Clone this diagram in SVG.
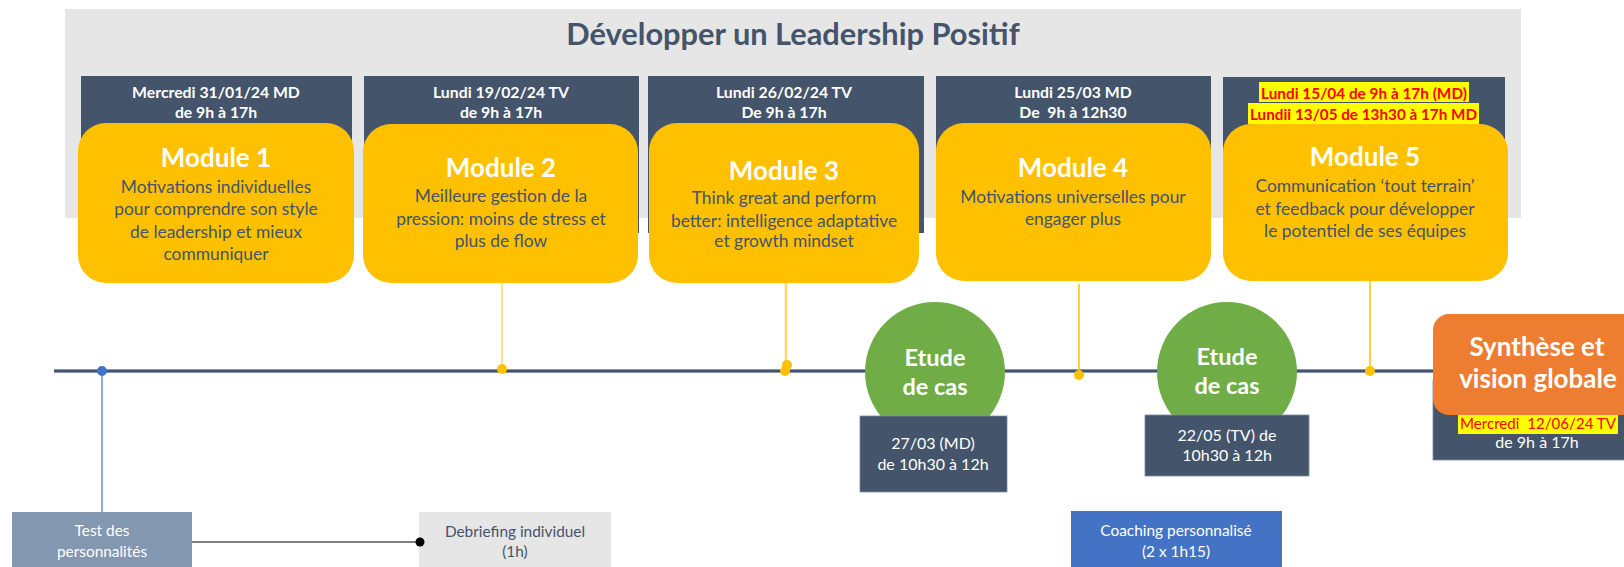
<svg xmlns="http://www.w3.org/2000/svg" width="1624" height="567" viewBox="0 0 1624 567">
<style>
text{font-family:Lato,"Liberation Sans",sans-serif;text-anchor:middle}
.title{font-size:30.8px;font-weight:700;fill:#44546A}
.hdr{fill:#44546A}
.hdrt{font-size:15.8px;font-weight:700;fill:#FFFFFF;white-space:pre}
.red{font-size:15.5px;font-weight:700;fill:#FF0000;white-space:pre}
.hl{fill:#FFFF00}
.mod{fill:#FFC000}
.modt{font-size:26px;font-weight:700;fill:#FFFFFF}
.body{font-size:17.4px;fill:#44546A}
.yl{stroke:#FFC000;stroke-width:1.5;fill:none}
.yd{fill:#FFC000}
.circ{fill:#70AD47}
.circt{font-size:23.5px;font-weight:700;fill:#FFFFFF}
.case{fill:#44546A;stroke:#7d8ca3;stroke-width:0.8}
.caset{font-size:16px;fill:#FFFFFF}
.smt{font-size:15.4px;fill:#FFFFFF}
</style>
<rect x="65" y="9" width="1456" height="209" fill="#E7E6E6"/>
<text class="title" x="793" y="45">Développer un Leadership Positif</text>

<g id="timeline">
  <line x1="54" y1="371" x2="1440" y2="371" stroke="#8497B0" stroke-width="4"/>
  <line x1="54" y1="371" x2="1440" y2="371" stroke="#44546A" stroke-width="2"/>
</g>

<g id="module1">
  <rect class="hdr" x="81" y="76" width="271" height="157"/>
  <text class="hdrt" x="216" y="98">Mercredi 31/01/24 MD</text>
  <text class="hdrt" x="216" y="118">de 9h à 17h</text>
  <rect class="mod" x="78" y="123" width="276" height="160" rx="28"/>
  <text class="modt" x="216" y="167">Module 1</text>
  <text class="body" x="216" y="193">Motivations individuelles</text>
  <text class="body" x="216" y="215">pour comprendre son style</text>
  <text class="body" x="216" y="238">de leadership et mieux</text>
  <text class="body" x="216" y="260">communiquer</text>
</g>

<g id="module2">
  <rect class="hdr" x="364" y="76" width="275" height="157"/>
  <text class="hdrt" x="501" y="98">Lundi 19/02/24 TV</text>
  <text class="hdrt" x="501" y="118">de 9h à 17h</text>
  <rect class="mod" x="363" y="124" width="275" height="159" rx="28"/>
  <text class="modt" x="501" y="177">Module 2</text>
  <text class="body" x="501" y="202">Meilleure gestion de la</text>
  <text class="body" x="501" y="225">pression: moins de stress et</text>
  <text class="body" x="501" y="247">plus de flow</text>
</g>

<g id="module3">
  <rect class="hdr" x="648" y="76" width="276" height="157"/>
  <text class="hdrt" x="784" y="98">Lundi 26/02/24 TV</text>
  <text class="hdrt" x="784" y="118">De 9h à 17h</text>
  <rect class="mod" x="649" y="123" width="270" height="160" rx="28"/>
  <text class="modt" x="784" y="180">Module 3</text>
  <text class="body" x="784" y="204">Think great and perform</text>
  <text class="body" x="784" y="227">better: intelligence adaptative</text>
  <text class="body" x="784" y="247">et growth mindset</text>
</g>

<g id="module4">
  <rect class="hdr" x="936" y="76" width="275" height="157"/>
  <text class="hdrt" x="1073" y="98">Lundi 25/03 MD</text>
  <text class="hdrt" x="1073" y="118">De  9h à 12h30</text>
  <rect class="mod" x="936" y="123" width="275" height="158" rx="28"/>
  <text class="modt" x="1073" y="177">Module 4</text>
  <text class="body" x="1073" y="203">Motivations universelles pour</text>
  <text class="body" x="1073" y="225">engager plus</text>
</g>

<g id="module5">
  <rect class="hdr" x="1223" y="77" width="282" height="156"/>
  <rect class="hl" x="1259" y="82" width="210" height="20"/>
  <rect class="hl" x="1248" y="103" width="231" height="21"/>
  <text class="red" x="1364" y="99" textLength="206" lengthAdjust="spacingAndGlyphs">Lundi 15/04 de 9h à 17h (MD)</text>
  <text class="red" x="1363.5" y="120" textLength="227" lengthAdjust="spacingAndGlyphs">Lundii 13/05 de 13h30 à 17h MD</text>
  <rect class="mod" x="1223" y="124" width="285" height="157" rx="28"/>
  <text class="modt" x="1365" y="166">Module 5</text>
  <text class="body" x="1365" y="192">Communication ‘tout terrain’</text>
  <text class="body" x="1365" y="215">et feedback pour développer</text>
  <text class="body" x="1365" y="237">le potentiel de ses équipes</text>
</g>

<g id="etude1">
  <circle class="circ" cx="935" cy="372" r="70"/>
  <text class="circt" x="935" y="366">Etude</text>
  <text class="circt" x="935" y="395">de cas</text>
  <rect class="case" x="860" y="416" width="147" height="76"/>
  <text class="caset" x="933" y="449">27/03 (MD)</text>
  <text class="caset" x="933" y="470">de 10h30 à 12h</text>
</g>

<g id="etude2">
  <circle class="circ" cx="1227" cy="372" r="70"/>
  <text class="circt" x="1227" y="365">Etude</text>
  <text class="circt" x="1227" y="394">de cas</text>
  <rect class="case" x="1145" y="415" width="164" height="61"/>
  <text class="caset" x="1227" y="441">22/05 (TV) de</text>
  <text class="caset" x="1227" y="461">10h30 à 12h</text>
</g>

<g id="synthese">
  <rect class="case" x="1433" y="380" width="200" height="80"/>
  <rect x="1433" y="314" width="220" height="101" rx="16" fill="#ED7D31"/>
  <rect class="hl" x="1458" y="415" width="160" height="19"/>
  <text class="red" x="1538" y="429" textLength="156" lengthAdjust="spacingAndGlyphs" style="font-weight:400">Mercredi  12/06/24 TV</text>
  <text class="caset" x="1537" y="448">de 9h à 17h</text>
  <text class="modt" x="1537" y="356">Synthèse et</text>
  <text class="modt" x="1538" y="388">vision globale</text>
</g>

<g id="test">
  <rect x="12" y="512" width="180" height="60" fill="#8497B0"/>
  <text class="smt" x="102" y="536">Test des</text>
  <text class="smt" x="102" y="557">personnalités</text>
</g>

<g id="debriefing">
  <rect x="419" y="512" width="192" height="60" fill="#E7E6E6"/>
  <text class="smt" x="515" y="537" style="fill:#44546A">Debriefing individuel</text>
  <text class="smt" x="515" y="557" style="fill:#44546A">(1h)</text>
</g>

<g id="coaching">
  <rect x="1071" y="511" width="211" height="60" fill="#4472C4"/>
  <text class="smt" x="1176" y="536">Coaching personnalisé</text>
  <text class="smt" x="1176" y="557">(2 x 1h15)</text>
</g>

<g id="connectors">
  <line x1="102" y1="371" x2="102" y2="512" stroke="#4472C4" stroke-width="1.2"/>
  <circle cx="102" cy="371" r="5" fill="#4472C4"/>
  <line x1="192" y1="542" x2="420" y2="542" stroke="#000000" stroke-width="1.2"/>
  <circle cx="420" cy="542" r="4.5" fill="#000000"/>
  <line class="yl" x1="502" y1="283" x2="502" y2="369" style="stroke:#FFD966"/>
  <circle class="yd" cx="502" cy="369" r="5"/>
  <line class="yl" x1="786" y1="283" x2="786" y2="368" style="stroke-width:2.5;stroke:#FFD966"/>
  <circle class="yd" cx="787" cy="365" r="5"/>
  <circle class="yd" cx="785" cy="371" r="5"/>
  <line class="yl" x1="1079" y1="284" x2="1079" y2="375"/>
  <circle class="yd" cx="1079" cy="375" r="5"/>
  <line class="yl" x1="1370" y1="281" x2="1370" y2="371"/>
  <circle class="yd" cx="1370" cy="371" r="5"/>
</g>
</svg>
